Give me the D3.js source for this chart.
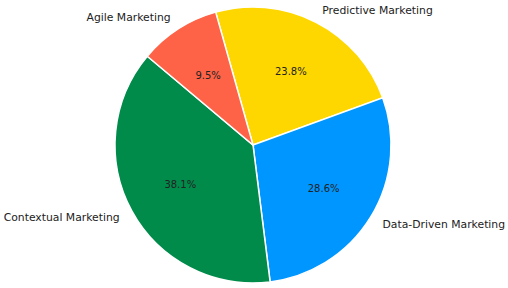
<!DOCTYPE html>
<html>
<head>
<meta charset="utf-8">
<script src="https://cdn.jsdelivr.net/npm/d3@7"></script>
<style>
  body { margin: 0; background: #fff; }
</style>
</head>
<body>
<div id="chart"></div>
<script>
// Data (clockwise order)
var categories = [ 'Predictive Marketing', 'Data-Driven Marketing', 'Contextual Marketing', 'Agile Marketing' ];
var values     = [ 5, 6, 8, 2 ];
var colors     = [ '#FFD700', '#0096FF', '#008B4B', '#FF6347' ];

var chart_width  = 508;
var chart_height = 288;
var cx = 253, cy = 145;
var radius = 138;

var total = d3.sum(values);
var data = categories.map(function(c, i){ return { name: c, value: values[i], color: colors[i] }; });

// pie layout
var start = -15.7 * Math.PI / 180;
var pie = d3.pie()
    .sort(null)
    .value(function(d){ return d.value; })
    .startAngle(start)
    .endAngle(start + 2 * Math.PI);

var arc = d3.arc().innerRadius(0).outerRadius(radius);
var pctArc = d3.arc().innerRadius(radius * 0.6).outerRadius(radius * 0.6);
var labelArc = d3.arc().innerRadius(radius * 1.1).outerRadius(radius * 1.1);

var svg = d3.select('#chart')
    .append('svg')
    .attr('width', chart_width)
    .attr('height', chart_height);

var g = svg.append('g')
    .attr('transform', 'translate(' + cx + ',' + cy + ')');

var arcs = g.selectAll('g.arc')
    .data(pie(data))
    .enter()
    .append('g')
    .attr('class', 'arc');

arcs.append('path')
    .attr('d', arc)
    .attr('fill', function(d){ return d.data.color; })
    .attr('stroke', '#fff')
    .attr('stroke-width', 1.5);

// percentages
arcs.append('text')
    .attr('transform', function(d){ return 'translate(' + pctArc.centroid(d) + ')'; })
    .attr('text-anchor', 'middle')
    .attr('dy', '0.35em')
    .style('font-family', 'DejaVu Sans')
    .style('font-size', '10px')
    .style('fill', '#222')
    .text(function(d){ return (d.data.value / total * 100).toFixed(1) + '%'; });

// category labels
arcs.append('text')
    .attr('transform', function(d){ return 'translate(' + labelArc.centroid(d) + ')'; })
    .attr('text-anchor', function(d){ return labelArc.centroid(d)[0] > 0 ? 'start' : 'end'; })
    .attr('dy', '0.35em')
    .style('font-family', 'DejaVu Sans')
    .style('font-size', '10.8px')
    .style('fill', '#222')
    .text(function(d){ return d.data.name; });
</script>
</body>
</html>
